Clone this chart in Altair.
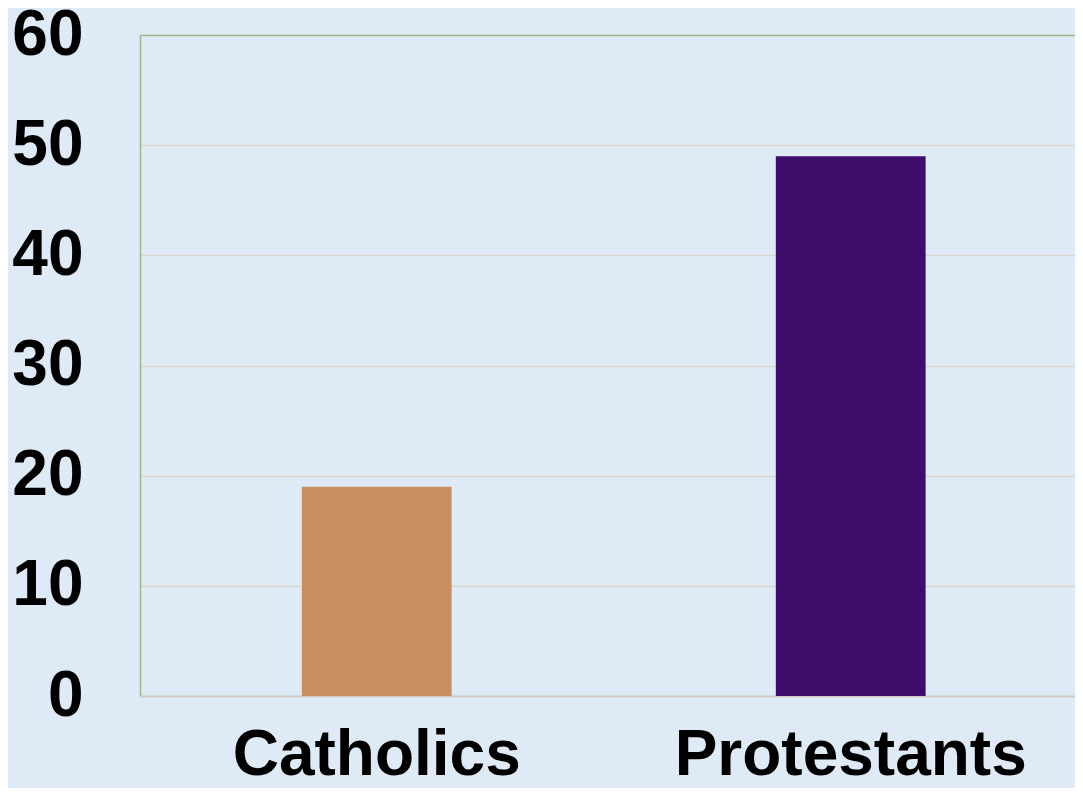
import altair as alt
import pandas as pd

categories = ["Catholics", "Protestants"]
values = [19, 49]
bar_colors = ["#c68f5d", "#3e0c6a"]
y_ticks = [0, 10, 20, 30, 40, 50, 60]

df = pd.DataFrame({"group": categories, "value": values})

FONT = "Liberation Sans"
BORDER = "#9fb58a"

chart = alt.Chart(df).mark_bar().encode(
    x=alt.X(
        "group:N",
        sort=categories,
        scale=alt.Scale(paddingInner=0.684, paddingOuter=0.3283, align=0.52),
        axis=alt.Axis(
            title=None,
            labelAngle=0,
            labelFont=FONT,
            labelFontSize=64,
            labelFontWeight="bold",
            labelColor="#000000",
            labelPadding=27,
            labelLimit=0,
            ticks=False,
            grid=False,
            domainColor="#d2d0c6",
            domainWidth=2,
        ),
    ),
    y=alt.Y(
        "value:Q",
        scale=alt.Scale(domain=[0, 60]),
        axis=alt.Axis(
            title=None,
            values=y_ticks,
            labelFont=FONT,
            labelFontSize=64,
            labelFontWeight="bold",
            labelColor="#000000",
            labelPadding=57,
            labelBaseline="middle",
            labelLimit=0,
            ticks=False,
            domain=True,
            domainColor=BORDER,
            domainWidth=1.5,
            grid=True,
            gridColor={"condition": {"test": "datum.value == 60", "value": BORDER}, "value": "#d8d5cd"},
            gridWidth=1.5,
        ),
    ),
    color=alt.Color(
        "group:N",
        scale=alt.Scale(domain=categories, range=bar_colors),
        legend=None,
    ),
).properties(
    width=935,
    height=661,
    background="#dfeaf7",
    padding={"left": 132, "top": 27, "right": 0, "bottom": 92},
    autosize=alt.AutoSizeParams(type="none"),
).configure_view(
    stroke=None,
)

chart.save("out.html", embed_options={"renderer": "svg", "actions": False})
